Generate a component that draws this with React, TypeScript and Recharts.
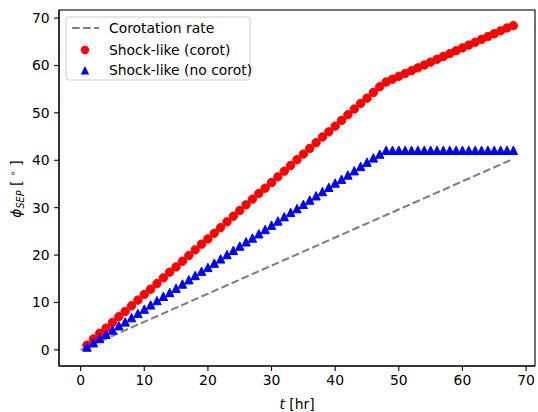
import { Scatter, ScatterChart, XAxis, YAxis } from "recharts";

// hours after event onset
const hours = [
  1, 2, 3, 4, 5, 6, 7, 8, 9, 10, 11, 12, 13, 14, 15, 16, 17, 18, 19, 20, 21, 22,
  23, 24, 25, 26, 27, 28, 29, 30, 31, 32, 33, 34, 35, 36, 37, 38, 39, 40, 41, 42,
  43, 44, 45, 46, 47, 48, 49, 50, 51, 52, 53, 54, 55, 56, 57, 58, 59, 60, 61, 62,
  63, 64, 65, 66, 67, 68,
];

const phiCorot = [
  1.0, 2.3, 3.5, 4.6, 5.8, 7.0, 8.1, 9.3, 10.5, 11.7, 12.8, 14.0, 15.2, 16.4,
  17.5, 18.7, 19.9, 21.1, 22.3, 23.4, 24.6, 25.8, 27.0, 28.2, 29.4, 30.6, 31.8,
  33.0, 34.1, 35.3, 36.5, 37.7, 38.9, 40.1, 41.3, 42.5, 43.7, 44.9, 46.0, 47.2,
  48.4, 49.6, 50.8, 52.0, 53.1, 54.3, 55.5, 56.5, 57.1, 57.7, 58.3, 58.9, 59.5,
  60.1, 60.7, 61.3, 61.9, 62.5, 63.1, 63.7, 64.3, 64.9, 65.5, 66.1, 66.7, 67.3,
  67.9, 68.4,
];

const phiNoCorot = [
  0.6, 1.5, 2.4, 3.3, 4.2, 5.1, 5.9, 6.8, 7.7, 8.6, 9.5, 10.4, 11.3, 12.1, 13.0,
  13.9, 14.8, 15.7, 16.6, 17.4, 18.3, 19.2, 20.1, 21.0, 21.9, 22.8, 23.6, 24.5,
  25.4, 26.3, 27.2, 28.1, 29.0, 29.8, 30.7, 31.6, 32.5, 33.4, 34.3, 35.2, 36.0,
  36.9, 37.8, 38.7, 39.6, 40.5, 41.3, 42.1, 42.1, 42.1, 42.1, 42.1, 42.1, 42.1,
  42.1, 42.1, 42.1, 42.1, 42.1, 42.1, 42.1, 42.1, 42.1, 42.1, 42.1, 42.1, 42.1,
  42.1,
];

const corotT = [0, 68];
const corotPhi = [0, 40.3];

const xTicks = [0, 10, 20, 30, 40, 50, 60, 70];
const yTicks = [0, 10, 20, 30, 40, 50, 60, 70];

const FONT = "DejaVu Sans";

const corotData = corotT.map((t, i) => ({ t, phi: corotPhi[i] }));
const corotShock = hours.map((t, i) => ({ t, phi: phiCorot[i] }));
const noCorotShock = hours.map((t, i) => ({ t, phi: phiNoCorot[i] }));

const RedDot = (props: any) => (
  <circle cx={props.cx} cy={props.cy} r={4.2} fill="#ff0000" stroke="#ff0000" strokeWidth={1} />
);

const BlueTri = (props: any) => {
  const { cx, cy } = props;
  const s = 4.2;
  return (
    <polygon
      points={`${cx},${cy - s} ${cx - s},${cy + s} ${cx + s},${cy + s}`}
      fill="#0000ff"
      stroke="#0000ff"
      strokeWidth={1}
    />
  );
};

const NoShape = () => <g />;

const xLabel = () => (
  <text x={297} y={409} textAnchor="middle" fontFamily={FONT} fontSize={13.9} fill="#000">
    <tspan fontStyle="italic">t</tspan> [hr]
  </text>
);

const yLabel = () => (
  <text
    transform="rotate(-90)"
    x={-189}
    y={21}
    textAnchor="middle"
    fontFamily={FONT}
    fontSize={13.9}
    fill="#000"
  >
    <tspan fontStyle="italic">ϕ</tspan>
    <tspan fontStyle="italic" fontSize={9.7} dy={3}>SEP</tspan>
    <tspan dy={-3}> [ </tspan>
    <tspan fontSize={9.7} dy={-5}>∘</tspan>
    <tspan dy={5}> ]</tspan>
  </text>
);

// plot frame (matplotlib draws all four spines)
const Frame = () => (
  <svg width={538} height={412} style={{ position: "absolute", left: 0, top: 0, pointerEvents: "none" }}>
    <rect x={59} y={10} width={476} height={356} fill="none" stroke="#000" strokeWidth={1.1} />
  </svg>
);

const LegendBox = () => (
  <svg
    width={188}
    height={68}
    style={{ position: "absolute", left: 64, top: 15, pointerEvents: "none" }}
  >
    <rect x={2} y={2} width={184} height={63} rx={3} fill="rgba(255,255,255,0.8)" stroke="#cccccc" strokeWidth={1} />
    <line x1={8} y1={13} x2={35} y2={13} stroke="#808080" strokeWidth={2.1} strokeDasharray="7.7 3.3" />
    <circle cx={21} cy={35} r={4.2} fill="#ff0000" />
    <polygon points="21,51 16.8,59.4 25.2,59.4" fill="#0000ff" />
    <g fontFamily={FONT} fontSize={13.9} fill="#000">
      <text x={45} y={18}>Corotation rate</text>
      <text x={45} y={40}>Shock-like (corot)</text>
      <text x={45} y={60}>Shock-like (no corot)</text>
    </g>
  </svg>
);

const tickStyle = { fill: "#000", fontSize: 13.9, fontFamily: FONT };

export default function App() {
  return (
    <div style={{ position: "absolute", left: 0, top: 0, width: 538, height: 412, background: "#fff" }}>
      <ScatterChart width={538} height={412} margin={{ top: 10, right: 3, bottom: 0, left: 0 }}>
        <XAxis
          type="number"
          dataKey="t"
          domain={[-3.4, 71.4]}
          ticks={xTicks}
          height={46}
          tickSize={4.9}
          tickMargin={4.5}
          tick={tickStyle}
          axisLine={{ stroke: "#000", strokeWidth: 1.1 }}
          tickLine={{ stroke: "#000", strokeWidth: 1.1 }}
          allowDataOverflow
          label={xLabel}
        />
        <YAxis
          type="number"
          dataKey="phi"
          domain={[-3.4, 71.7]}
          ticks={yTicks}
          width={59}
          tickSize={4.9}
          tickMargin={4.5}
          tick={tickStyle}
          axisLine={{ stroke: "#000", strokeWidth: 1.1 }}
          tickLine={{ stroke: "#000", strokeWidth: 1.1 }}
          allowDataOverflow
          label={yLabel}
        />
        <Scatter
          name="Corotation rate"
          data={corotData}
          line={{ stroke: "#808080", strokeWidth: 2.1, strokeDasharray: "7.7 3.3" }}
          lineType="joint"
          shape={NoShape}
          isAnimationActive={false}
        />
        <Scatter
          name="Shock-like (corot)"
          data={corotShock}
          shape={RedDot}
          isAnimationActive={false}
        />
        <Scatter
          name="Shock-like (no corot)"
          data={noCorotShock}
          shape={BlueTri}
          isAnimationActive={false}
        />
      </ScatterChart>
      <Frame />
      <LegendBox />
    </div>
  );
}
